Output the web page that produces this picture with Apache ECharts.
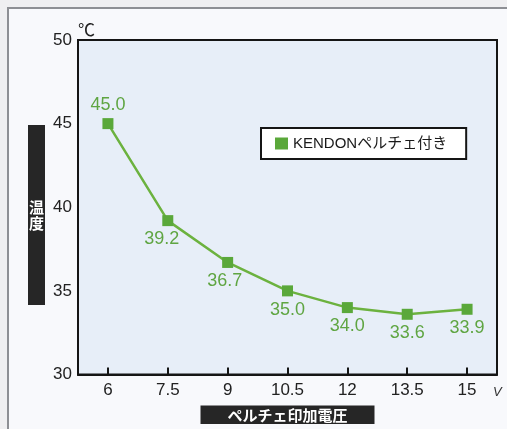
<!DOCTYPE html>
<html>
<head>
<meta charset="utf-8">
<script src="https://cdn.jsdelivr.net/npm/echarts@6/dist/echarts.min.js"></script>
<style>
  html, body { margin: 0; padding: 0; background: #efeff1; }
  #frame { position: absolute; left: 7px; top: 7px; width: 500px; height: 422px;
           border-left: 2px solid #8d8f94; border-top: 2px solid #8d8f94; background: #f8f9fc; }
  #chart { position: absolute; left: 0; top: 0; width: 507px; height: 429px; }
</style>
</head>
<body>
<div id="frame"></div>
<div id="chart"></div>
<script>
// ---- data ----
const categories = ['6', '7.5', '9', '10.5', '12', '13.5', '15'];
const temperatures = [45.0, 39.2, 36.7, 35.0, 34.0, 33.6, 33.9];
const yTicks = { min: 30, max: 50, interval: 5 };
const seriesName = 'KENDONペルチェ付き';
const xAxisTitle = 'ペルチェ印加電圧';
const yAxisTitle = '温\n度';
const yUnit = '℃';
const xUnit = 'V';

// ---- label placement (style, kept apart from data) ----
const labelPlacement = [
  { position: 'top', offset: [0, 0] },
  { position: 'bottom', offset: [-6, 0] },
  { position: 'bottom', offset: [-3, 0] },
  { position: 'bottom', offset: [0, 1] },
  { position: 'bottom', offset: [0, 0] },
  { position: 'bottom', offset: [0, 0] },
  { position: 'bottom', offset: [0, 0] }
];

const FONT = '"Liberation Sans", Arial, "Noto Sans CJK JP", sans-serif';
const GREEN_LINE = '#6cb23f';
const GREEN_MARK = '#5aa83a';
const GREEN_TEXT = '#5fa542';

const chart = echarts.init(document.getElementById('chart'), null, { renderer: 'canvas' });

const seriesData = temperatures.map((v, i) => ({
  value: v,
  label: { position: labelPlacement[i].position, offset: labelPlacement[i].offset }
}));

chart.setOption({
  backgroundColor: 'transparent',
  animation: false,
  textStyle: { fontFamily: FONT },
  grid: {
    left: 78, right: 10, top: 40, bottom: 51,
    show: true, backgroundColor: '#e7eef8', borderColor: '#151515', borderWidth: 2
  },
  title: [{
    text: yAxisTitle,
    left: 28, top: 125,
    backgroundColor: '#262626',
    padding: [74, 1, 74, 1],
    textStyle: { color: '#ffffff', fontSize: 15, lineHeight: 16, fontWeight: 'bold',
                 fontFamily: '"Noto Sans CJK JP", sans-serif' }
  }],
  legend: {
    data: [seriesName],
    left: 261, top: 128,
    orient: 'horizontal',
    icon: 'rect',
    itemWidth: 13, itemHeight: 12,
    backgroundColor: '#ffffff',
    borderColor: '#151515', borderWidth: 2,
    padding: [8, 19, 8, 14],
    textStyle: { fontSize: 15, color: '#1a1a1a', fontFamily: FONT }
  },
  xAxis: {
    type: 'category',
    data: categories,
    boundaryGap: true,
    name: xAxisTitle,
    nameLocation: 'middle',
    nameGap: 31,
    nameTextStyle: {
      color: '#ffffff', fontSize: 15, fontWeight: 'bold', lineHeight: 15,
      backgroundColor: '#262626', padding: [2, 27, 1.5, 27],
      verticalAlign: 'top',
      fontFamily: '"Noto Sans CJK JP", sans-serif'
    },
    axisLine: { lineStyle: { color: '#151515', width: 2 } },
    axisTick: { show: true, inside: true, alignWithLabel: true, length: 7,
                lineStyle: { color: '#151515', width: 2 } },
    axisLabel: { color: '#222', fontSize: 17, margin: 7, fontFamily: FONT },
    splitLine: { show: false }
  },
  yAxis: {
    type: 'value',
    min: yTicks.min, max: yTicks.max, interval: yTicks.interval,
    name: yUnit,
    nameLocation: 'end',
    nameGap: 10,
    nameTextStyle: { color: '#222', fontSize: 17, align: 'left', verticalAlign: 'middle',
                     padding: [0, 0, 0, 0], fontFamily: '"Noto Sans CJK JP", sans-serif' },
    axisLine: { show: true, lineStyle: { color: '#151515', width: 2 } },
    axisTick: { show: false },
    axisLabel: { color: '#222', fontSize: 17, margin: 6, fontFamily: FONT },
    splitLine: { show: false }
  },
  series: [{
    name: seriesName,
    type: 'line',
    data: seriesData,
    symbol: 'rect',
    symbolSize: 11,
    itemStyle: { color: GREEN_MARK },
    lineStyle: { color: GREEN_LINE, width: 2.5 },
    label: {
      show: true,
      distance: 4,
      color: GREEN_TEXT,
      fontSize: 18,
      fontFamily: FONT,
      formatter: p => p.value.toFixed(1)
    }
  }],
  graphic: [{
    type: 'text',
    left: 493, top: 386,
    style: { text: xUnit, fontSize: 13, fontStyle: 'italic', fill: '#333', fontFamily: FONT }
  }]
});
</script>
</body>
</html>
